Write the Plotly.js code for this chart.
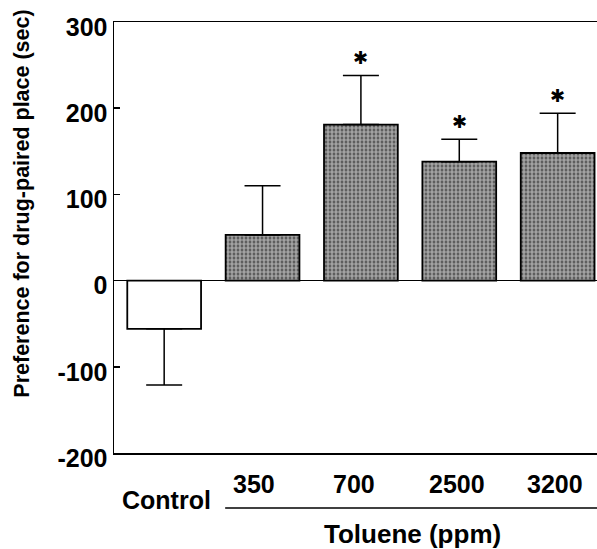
<!DOCTYPE html>
<html>
<head>
<meta charset="utf-8">
<script src="https://cdn.plot.ly/plotly-3.0.1.min.js"></script>
<style>html,body{margin:0;padding:0;background:#fff;}#chart{width:597px;height:549px;}</style>
</head>
<body>
<div id="chart"></div>
<script>
// Data
const categories = ["Control", "350", "700", "2500", "3200"];
const means = [-56, 53, 181, 138, 148];
const errUp = [0, 57, 57, 26, 46];
const errDown = [65, 0, 0, 0, 0];
const significant = [false, false, true, true, true];
const yTicks = [-200, -100, 0, 100, 200, 300];
const xAxisTitle = "Toluene (ppm)";
const yAxisTitle = "Preference for drug-paired place (sec)";

const FONT = "Liberation Sans, Arial, Helvetica, sans-serif";
const idx = categories.map((c, i) => i);

const barTrace = {
  type: "bar",
  x: idx,
  y: means,
  width: 0.75,
  marker: {
    color: categories.map((c, i) => i === 0 ? "#ffffff" : "#444444"),
    line: {color: "#000", width: 1.8},
    pattern: {
      shape: categories.map((c, i) => i === 0 ? "" : "."),
      size: 4,
      solidity: 0.7,
      fgcolor: "#000000",
      bgcolor: "#d4d4d4",
      fillmode: "overlay"
    }
  },
  error_y: {
    type: "data",
    symmetric: false,
    array: errUp,
    arrayminus: errDown,
    color: "#000",
    thickness: 1.5,
    width: 18
  },
  hoverinfo: "skip"
};

const annotations = [];
// star markers
idx.forEach(i => {
  if (significant[i]) {
    annotations.push({
      x: i, y: means[i] + errUp[i], xref: "x", yref: "y",
      text: "✱", showarrow: false, yanchor: "middle", yshift: 18,
      font: {family: "DejaVu Sans", size: 18, color: "#000"}
    });
  }
});
// category labels
const labelShift = [2, -9, -7, -2, -3];
idx.forEach(i => {
  annotations.push({
    x: i, y: i === 0 ? -0.109 : -0.071, xref: "x", yref: "paper",
    text: categories[i], showarrow: false, xanchor: "center", yanchor: "middle",
    xshift: labelShift[i],
    font: {family: FONT, size: 25, color: "#000", weight: 700}
  });
});
annotations.push({
  x: (412 - 114) / (597 - 114), xref: "paper", y: -0.187, yref: "paper",
  text: xAxisTitle, showarrow: false, yanchor: "middle", xanchor: "center",
  font: {family: FONT, size: 26, color: "#000", weight: 700}
});
annotations.push({
  x: -0.19, xref: "paper", y: 0.579, yref: "paper",
  text: yAxisTitle, showarrow: false, textangle: -90,
  xanchor: "center", yanchor: "middle",
  font: {family: FONT, size: 21.5, color: "#000", weight: 700}
});

const layout = {
  width: 597, height: 549,
  margin: {l: 114, r: 0, t: 22, b: 96, pad: 0},
  paper_bgcolor: "#fff", plot_bgcolor: "#fff",
  showlegend: false,
  bargap: 0.25,
  font: {family: FONT, color: "#000"},
  xaxis: {
    range: [-0.51, 4.4],
    showgrid: false, zeroline: false,
    showline: true, mirror: true, linecolor: "#000", linewidth: 1.5,
    showticklabels: false, ticks: "",
    fixedrange: true
  },
  yaxis: {
    range: [-200, 300],
    tickvals: yTicks,
    ticktext: yTicks.map(String),
    ticks: "inside", ticklen: 6, tickwidth: 1.5, tickcolor: "#000",
    showline: true, linecolor: "#000", linewidth: 1.5,
    showgrid: false,
    zeroline: true, zerolinecolor: "#000", zerolinewidth: 1.5,
    tickfont: {family: FONT, size: 25, color: "#000", weight: 700},
    ticklabelstandoff: 0,
    ticklabelshift: 5,
    fixedrange: true
  },
  shapes: [{
    type: "line", xref: "x", yref: "paper",
    x0: 0.62, x1: 4.4, y0: -0.1276, y1: -0.1276,
    line: {color: "#000", width: 1.5}
  }],
  annotations: annotations
};

Plotly.newPlot("chart", [barTrace], layout, {displayModeBar: false, staticPlot: true});
</script>
</body>
</html>
